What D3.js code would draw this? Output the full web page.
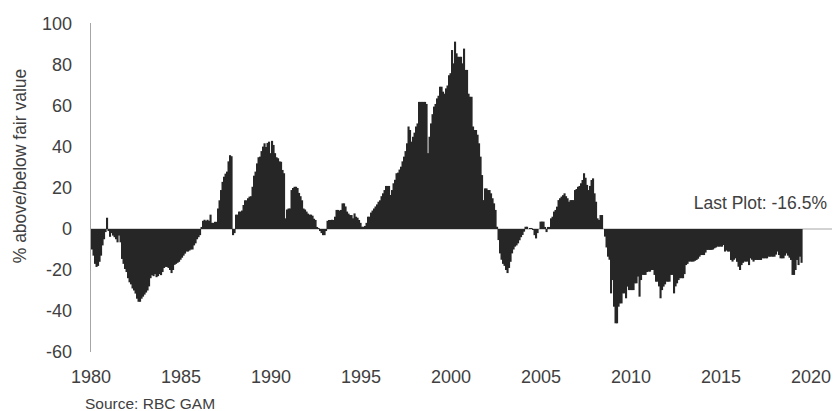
<!DOCTYPE html>
<html>
<head>
<meta charset="utf-8">
<script src="https://cdn.jsdelivr.net/npm/d3@7"></script>
<style>
  html, body { margin: 0; padding: 0; background: #ffffff; }
  svg { display: block; font-family: "Liberation Sans", Arial, sans-serif; }
</style>
</head>
<body>
<svg id="chart" width="835" height="411"></svg>
<script>
// Monthly valuation (% above/below fair value), Jan 1980 .. Jun 2019
const v1980 = [-10, -13, -17, -18.5, -18, -16, -13, -8, -5, -1.5, 5.5, -1];
const v1981 = [-3.8, -2, -3.2, -4, -5, -6.5, -3.2, -6.5, -14.6, -17, -19.5, -21];
const v1982 = [-24, -26, -27, -29, -30, -31.5, -34, -35.5, -35.5, -34, -33, -32];
const v1983 = [-31, -30, -28, -24, -22.5, -23, -22, -23.5, -23, -22, -22.5, -21];
const v1984 = [-19, -18.5, -18.5, -19, -20, -21.5, -20, -17.5, -17, -16.5, -16, -15];
const v1985 = [-14, -13, -12, -11, -11, -10.5, -10, -10, -8, -7, -5, -4];
const v1986 = [-3, 1, 4, 4.5, 4, 4.5, 4, 7, 3, 3, 3.5, 3.5];
const v1987 = [10, 14, 19, 23, 25.5, 27, 28, 33, 36, 35.5, -3, -2];
const v1988 = [7, 7, 8.5, 8.5, 9, 11.7, 14, 14, 15, 15.8, 16, 20.6];
const v1989 = [26, 28, 32, 35, 35.3, 38, 40.2, 41.8, 40, 42, 42.6, 37];
const v1990 = [43, 41, 37, 35, 34.5, 33, 32.8, 28.8, 27.2, 5.2, 9.5, 10];
const v1991 = [10, 19, 20, 20.6, 20.6, 20, 17.6, 16, 14, 10, 9.5, 8.5];
const v1992 = [7.5, 7, 7, 6.5, 5, 4.4, 1, 0.5, -1, -2, -3, -3];
const v1993 = [-1, 4, 4.4, 4.4, 4.5, 4.4, 6, 9.3, 9.3, 9, 9.3, 12.5];
const v1994 = [12.5, 11, 8.5, 7.5, 6.8, 6.8, 5.2, 7.6, 6, 5.5, 4.4, 3];
const v1995 = [1.1, 1.1, 1.5, 3, 6, 6, 8, 9, 10, 11, 12, 13.3];
const v1996 = [14, 16, 17.4, 19, 21, 21, 21, 16.6, 19, 22.3, 24, 27.2];
const v1997 = [27.5, 29, 30.4, 33, 35.3, 38, 41.8, 50, 48.3, 42.6, 45, 47];
const v1998 = [50, 51.5, 62, 62, 62, 62, 62, 61, 37, 45, 51.5, 56];
const v1999 = [59.7, 61, 63.7, 65, 69.4, 69.4, 67, 66, 68.6, 70, 75, 76];
const v2000 = [87.3, 80.8, 91.4, 85.7, 84, 84, 84, 80.8, 88, 77.6, 77.6, 66];
const v2001 = [64.5, 64.5, 50, 48.3, 48.3, 46, 41.8, 35.3, 26.3, 14.1, 19.8, 19.8];
const v2002 = [19, 19, 17.4, 15, 12.5, 9.3, 1.1, -5.4, -11.9, -15, -17, -18];
const v2003 = [-20, -21.5, -19, -16, -11.9, -10, -8.6, -8, -7, -5.5, -4, -2.9];
const v2004 = [-1.3, 1.1, 1.1, 0, 0.5, 0.5, -0.5, -3, -4.6, -2, 0, 3.6];
const v2005 = [3.6, 3.6, 1, -1.5, 1, 1, 5.2, 6, 8.5, 9.3, 10.9, 14.1];
const v2006 = [15, 15.8, 16.5, 17.4, 16, 15, 13.3, 14.1, 14.1, 14.1, 19, 19.5];
const v2007 = [20.6, 21, 22.3, 23.9, 27.2, 25, 21.5, 19, 21, 23.9, 24.7, 17.4];
const v2008 = [13.3, 5.2, 4.4, 6.8, 6.8, 0, -3.7, -9, -13.5, -15, -31.4, -24.9];
const v2009 = [-37.9, -46, -46, -37.9, -36.3, -36.3, -31.4, -31.4, -33.8, -28.1, -29.8, -29.8];
const v2010 = [-29.8, -29.8, -26.5, -26.5, -23.2, -33, -24.9, -22.4, -22.4, -22.4, -21, -20.8];
const v2011 = [-20.8, -20, -20, -22.4, -25.7, -25.7, -28, -33.8, -29.8, -28.1, -27, -25.7];
const v2012 = [-25.7, -25.7, -22.4, -22.4, -31.4, -28, -26.5, -24.9, -24, -24, -24, -22];
const v2013 = [-17.6, -17, -15.9, -15.9, -15.9, -15.9, -15.5, -15.1, -14.5, -13.5, -12.7, -12.7];
const v2014 = [-12.7, -11.5, -10.2, -10.2, -10.2, -10.2, -10, -9.4, -9, -8.6, -8.6, -8.6];
const v2015 = [-8.6, -7.8, -11, -10.5, -11, -11, -15.1, -15.9, -15, -14.3, -16, -18.4];
const v2016 = [-20, -17.6, -16.5, -15.9, -15.9, -15.9, -17.6, -14.3, -15, -15.9, -15.1, -15.1];
const v2017 = [-15.1, -15.1, -15.1, -14.3, -14.3, -14.3, -14.3, -13.5, -13.5, -13.5, -13.5, -13.5];
const v2018 = [-12.5, -11, -12.7, -14.3, -14.3, -14.3, -13, -11.9, -13, -14, -15.1, -22.4];
const v2019 = [-22.4, -20, -15.1, -17.6, -13.5, -16.5];

const yearSeries = [v1980, v1981, v1982, v1983, v1984, v1985, v1986, v1987, v1988, v1989,
  v1990, v1991, v1992, v1993, v1994, v1995, v1996, v1997, v1998, v1999,
  v2000, v2001, v2002, v2003, v2004, v2005, v2006, v2007, v2008, v2009,
  v2010, v2011, v2012, v2013, v2014, v2015, v2016, v2017, v2018, v2019];
const startYear = 1980;

const xTickYears = [1980, 1985, 1990, 1995, 2000, 2005, 2010, 2015, 2020];
const yTicks = [-60, -40, -20, 0, 20, 40, 60, 80, 100];
const yTitle = "% above/below fair value";
const annotation = "Last Plot: -16.5%";
const source = "Source: RBC GAM";

// Build monthly table
const data = [];
yearSeries.forEach((arr, yi) => {
  arr.forEach((v, m) => data.push({ t: startYear + yi + m / 12, v: v }));
});

const svg = d3.select("#chart");
const x = d3.scaleLinear().domain([1980, 2020]).range([91, 811]);
const y = d3.scaleLinear().domain([-60, 100]).range([352, 24]);
const textColor = "#404040";
const barColor = "#262626";
const axisColor = "#a6a6a6";

// zero line (behind bars)
svg.append("line")
  .attr("x1", x(1980)).attr("x2", 832)
  .attr("y1", y(0)).attr("y2", y(0))
  .attr("stroke", axisColor).attr("stroke-width", 1);

// bars
const bw = x(startYear + 1 / 12) - x(startYear);
svg.append("g").selectAll("rect").data(data).join("rect")
  .attr("x", d => x(d.t))
  .attr("width", bw + 0.6)
  .attr("y", d => Math.min(y(d.v), y(0)))
  .attr("height", d => Math.abs(y(d.v) - y(0)))
  .attr("fill", barColor);

// y axis line
svg.append("line")
  .attr("x1", 90.5).attr("x2", 90.5)
  .attr("y1", y(100) - 1).attr("y2", y(-60))
  .attr("stroke", axisColor).attr("stroke-width", 1);

// y tick labels
svg.append("g").selectAll("text").data(yTicks).join("text")
  .attr("x", 72).attr("y", d => y(d)).attr("dy", "0.35em")
  .attr("text-anchor", "end")
  .attr("font-size", 18).attr("fill", textColor)
  .text(d => d);

// x tick labels
svg.append("g").selectAll("text").data(xTickYears).join("text")
  .attr("x", d => x(d)).attr("y", 383)
  .attr("text-anchor", "middle")
  .attr("font-size", 18).attr("fill", textColor)
  .text(d => d);

// y title
svg.append("text")
  .attr("transform", "translate(26,166) rotate(-90)")
  .attr("text-anchor", "middle")
  .attr("font-size", 17.5).attr("fill", textColor)
  .text(yTitle);

// annotation
svg.append("text")
  .attr("x", 827).attr("y", 209)
  .attr("text-anchor", "end")
  .attr("font-size", 17.5).attr("fill", textColor)
  .text(annotation);

// source
svg.append("text")
  .attr("x", 85).attr("y", 409)
  .attr("font-size", 15.5).attr("fill", textColor)
  .text(source);
</script>
</body>
</html>
